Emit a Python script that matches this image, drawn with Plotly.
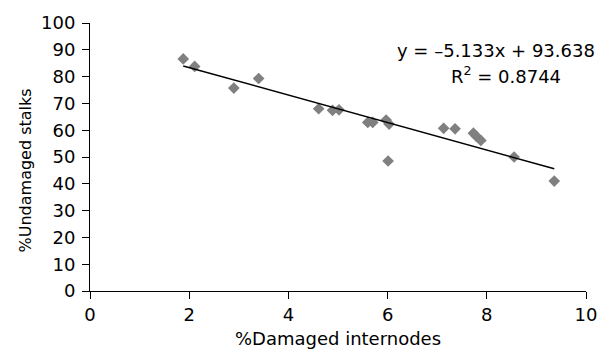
import plotly.graph_objects as go

# Data
damaged_internodes = [1.88, 2.11, 2.90, 3.40, 4.61, 4.89, 5.02, 5.60, 5.70, 5.97,
                      6.03, 6.01, 7.13, 7.36, 7.73, 7.79, 7.88, 8.55, 9.36]
undamaged_stalks = [86.6, 83.8, 75.7, 79.3, 68.0, 67.4, 67.6, 62.9, 62.9, 63.8,
                    62.3, 48.5, 60.7, 60.5, 58.9, 57.7, 56.2, 50.0, 41.0]

slope = -5.133
intercept = 93.638
r_squared = 0.8744

x_ticks = [0, 2, 4, 6, 8, 10]
y_ticks = [0, 10, 20, 30, 40, 50, 60, 70, 80, 90, 100]

FONT = "DejaVu Sans"
FS = 18

W, H = 609, 357
ML, MR, MT, MB = 90, 17, 19, 64
PW, PH = W - ML - MR, H - MT - MB

fig = go.Figure()

fig.add_trace(go.Scatter(
    x=damaged_internodes, y=undamaged_stalks, mode="markers",
    marker=dict(symbol="diamond", size=9, color="#808080", line=dict(width=0)),
    showlegend=False, hoverinfo="skip",
))

x_lo, x_hi = min(damaged_internodes), max(damaged_internodes)
fig.add_trace(go.Scatter(
    x=[x_lo, x_hi], y=[slope * x_lo + intercept, slope * x_hi + intercept],
    mode="lines", line=dict(color="black", width=1.5),
    showlegend=False, hoverinfo="skip",
))

fig.add_annotation(x=8.18, y=89.8, xref="x", yref="y", showarrow=False,
                   text="y = \u20135.133x + 93.638",
                   font=dict(family=FONT, size=FS, color="black"))
fig.add_annotation(x=8.38, y=80.7, xref="x", yref="y", showarrow=False,
                   text=f"R<sup>2</sup> = {r_squared}",
                   font=dict(family=FONT, size=FS, color="black"))

# y-axis title placed as a rotated annotation (slightly below the axis centre, as in the reference)
fig.add_annotation(x=(25 - ML) / PW, y=(H - MB - 170) / PH, xref="paper", yref="paper",
                   showarrow=False, textangle=-90, xanchor="center", yanchor="middle",
                   text="%Undamaged stalks",
                   font=dict(family=FONT, size=16, color="black"))

axis_common = dict(
    showgrid=False, zeroline=False, showline=True, linecolor="black", linewidth=1,
    ticks="outside", ticklen=7, tickwidth=1, tickcolor="black",
    tickfont=dict(family=FONT, size=FS, color="black"),
)

fig.update_xaxes(range=[0, 10], tickvals=x_ticks, ticktext=[str(v) for v in x_ticks],
                 title=dict(text="%Damaged internodes", font=dict(family=FONT, size=FS, color="black"),
                            standoff=8),
                 **axis_common)
fig.update_yaxes(range=[0, 100], tickvals=y_ticks, ticktext=[str(v) for v in y_ticks],
                 ticklabelstandoff=3,
                 **axis_common)

fig.update_layout(
    width=W, height=H,
    margin=dict(l=ML, r=MR, t=MT, b=MB, pad=0),
    paper_bgcolor="white", plot_bgcolor="white",
    font=dict(family=FONT, size=FS, color="black"),
)

fig.write_html("out.html")
